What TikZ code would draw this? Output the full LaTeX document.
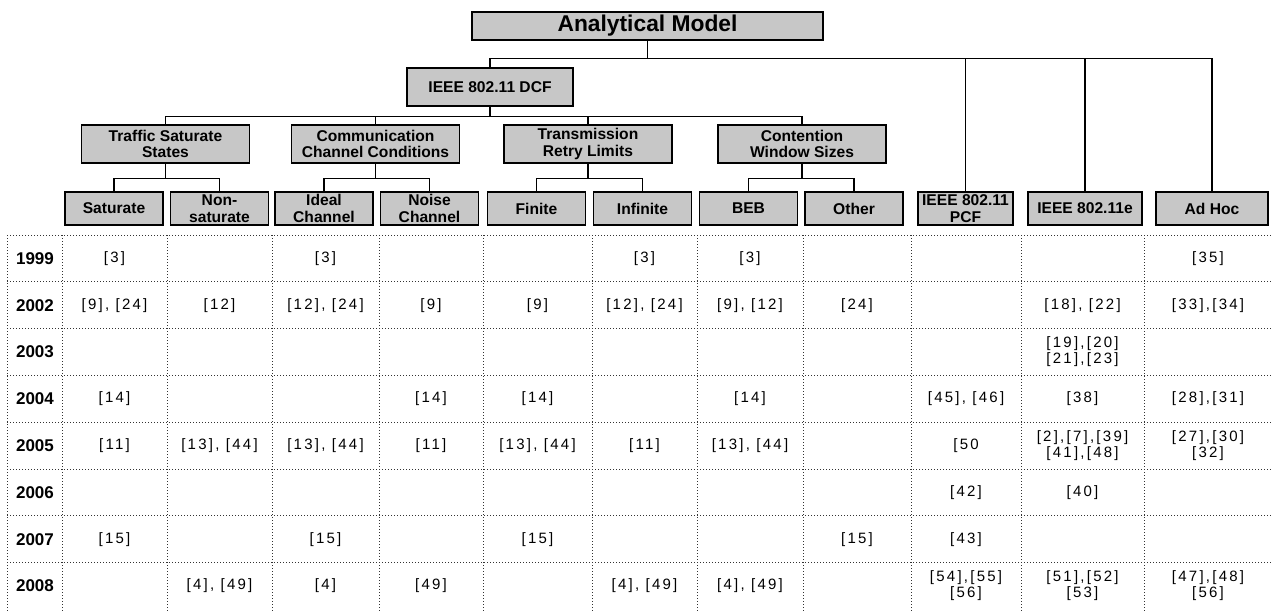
\documentclass[tikz,border=0pt]{standalone}
\usepackage{fontspec}
\setmainfont{Liberation Sans}
\newfontfamily\tabfont[LetterSpace=15]{Liberation Sans}
\usetikzlibrary{calc}
\tikzset{
  box/.style={draw, fill=black!22, line width=0.6pt, inner sep=0pt, align=center,
    font=\bfseries\fontsize{7.8}{8.4}\selectfont},
  leaf/.style={box, minimum width=49pt, minimum height=16.5pt},
  mid/.style={box, minimum width=84pt, minimum height=19pt},
  link/.style={line width=0.6pt},
  tabrule/.style={densely dotted, line width=0.5pt, black!80},
  ref/.style={font=\tabfont\fontsize{7.5}{8}\selectfont, align=center, inner sep=0pt},
  year/.style={font=\bfseries\fontsize{8.5}{9}\selectfont, inner sep=0pt}
}
\newcommand{\branch}[3]{
\draw[link] (#1.south) -- ++(0,#2) -| (#3.north);
}
\begin{document}
\begin{tikzpicture}[x=0.5pt,y=-0.5pt]
\useasboundingbox (0,0) rectangle (1272,612);
% tree
\node[box, minimum width=175.5pt, minimum height=14pt, font=\bfseries\fontsize{11.4}{12}\selectfont] at (647.5,26) (model) {Analytical Model};
\node[mid, minimum width=83pt] at (490,87) (dcf) {IEEE 802.11 DCF};
\node[mid] at (165.5,144) (traffic) {Traffic Saturate\\States};
\node[mid] at (375.5,144) (channel) {Communication\\Channel Conditions};
\node[mid] at (588,144) (retry) {Transmission\\Retry Limits};
\node[mid] at (802,144) (window) {Contention\\Window Sizes};
\node[leaf] at (114,208.5) (sat) {Saturate};
\node[leaf] at (219.5,208.5) (nonsat) {Non-\\saturate};
\node[leaf] at (324,208.5) (ideal) {Ideal\\Channel};
\node[leaf] at (429.5,208.5) (noise) {Noise\\Channel};
\node[leaf] at (536.5,208.5) (finite) {Finite};
\node[leaf] at (642.5,208.5) (infinite) {Infinite};
\node[leaf] at (748.5,208.5) (beb) {BEB};
\node[leaf] at (854,208.5) (other) {Other};
\node[leaf, minimum width=47.5pt] at (965.5,208.5) (pcf) {IEEE 802.11\\PCF};
\node[leaf, minimum width=57pt] at (1085,208.5) (edca) {IEEE 802.11e};
\node[leaf, minimum width=56pt] at (1212,208.5) (adhoc) {Ad Hoc};
\branch{model}{17.5}{dcf}
\branch{model}{17.5}{pcf}
\branch{model}{17.5}{edca}
\branch{model}{17.5}{adhoc}
\branch{dcf}{10}{traffic}
\branch{dcf}{10}{channel}
\branch{dcf}{10}{retry}
\branch{dcf}{10}{window}
\branch{traffic}{15}{sat}
\branch{traffic}{15}{nonsat}
\branch{channel}{15}{ideal}
\branch{channel}{15}{noise}
\branch{retry}{15}{finite}
\branch{retry}{15}{infinite}
\branch{window}{15}{beb}
\branch{window}{15}{other}
% table
\foreach \x in {7,62,167,272,379,483,592,697,803,911,1021,1144}
  \draw[tabrule] (\x,235) -- (\x,612);
\foreach \y in {235,281.8,328.6,375.4,422.2,469,515.8,562.6}
  \draw[tabrule] (7,\y) -- (1272,\y);
\node[year] at (35,258.4) (y1999) {1999};
\node[year] at (35,305.2) (y2002) {2002};
\node[year] at (35,352) (y2003) {2003};
\node[year] at (35,398.8) (y2004) {2004};
\node[year] at (35,445.6) (y2005) {2005};
\node[year] at (35,492.4) (y2006) {2006};
\node[year] at (35,539.2) (y2007) {2007};
\node[year] at (35,586) (y2008) {2008};
% 1999
\node[ref] at (114.5,258.4) (r1c1) {[3]};
\node[ref] at (325.5,258.4) (r1c3) {[3]};
\node[ref] at (644.5,258.4) (r1c6) {[3]};
\node[ref] at (750,258.4) (r1c7) {[3]};
\node[ref] at (1208,258.4) (r1c11) {[35]};
% 2002
\node[ref] at (114.5,305.2) (r2c1) {[9], [24]};
\node[ref] at (219.5,305.2) (r2c2) {[12]};
\node[ref] at (325.5,305.2) (r2c3) {[12], [24]};
\node[ref] at (431,305.2) (r2c4) {[9]};
\node[ref] at (537.5,305.2) (r2c5) {[9]};
\node[ref] at (644.5,305.2) (r2c6) {[12], [24]};
\node[ref] at (750,305.2) (r2c7) {[9], [12]};
\node[ref] at (857,305.2) (r2c8) {[24]};
\node[ref] at (1082.5,305.2) (r2c10) {[18], [22]};
\node[ref] at (1208,305.2) (r2c11) {[33],[34]};
% 2003
\node[ref] at (1082.5,352) (r3c10) {[19],[20]\\{}[21],[23]};
% 2004
\node[ref] at (114.5,398.8) (r4c1) {[14]};
\node[ref] at (431,398.8) (r4c4) {[14]};
\node[ref] at (537.5,398.8) (r4c5) {[14]};
\node[ref] at (750,398.8) (r4c7) {[14]};
\node[ref] at (966,398.8) (r4c9) {[45], [46]};
\node[ref] at (1082.5,398.8) (r4c10) {[38]};
\node[ref] at (1208,398.8) (r4c11) {[28],[31]};
% 2005
\node[ref] at (114.5,445.6) (r5c1) {[11]};
\node[ref] at (219.5,445.6) (r5c2) {[13], [44]};
\node[ref] at (325.5,445.6) (r5c3) {[13], [44]};
\node[ref] at (431,445.6) (r5c4) {[11]};
\node[ref] at (537.5,445.6) (r5c5) {[13], [44]};
\node[ref] at (644.5,445.6) (r5c6) {[11]};
\node[ref] at (750,445.6) (r5c7) {[13], [44]};
\node[ref] at (966,445.6) (r5c9) {[50};
\node[ref] at (1082.5,445.6) (r5c10) {[2],[7],[39]\\{}[41],[48]};
\node[ref] at (1208,445.6) (r5c11) {[27],[30]\\{}[32]};
% 2006
\node[ref] at (966,492.4) (r6c9) {[42]};
\node[ref] at (1082.5,492.4) (r6c10) {[40]};
% 2007
\node[ref] at (114.5,539.2) (r7c1) {[15]};
\node[ref] at (325.5,539.2) (r7c3) {[15]};
\node[ref] at (537.5,539.2) (r7c5) {[15]};
\node[ref] at (857,539.2) (r7c8) {[15]};
\node[ref] at (966,539.2) (r7c9) {[43]};
% 2008
\node[ref] at (219.5,586) (r8c2) {[4], [49]};
\node[ref] at (325.5,586) (r8c3) {[4]};
\node[ref] at (431,586) (r8c4) {[49]};
\node[ref] at (644.5,586) (r8c6) {[4], [49]};
\node[ref] at (750,586) (r8c7) {[4], [49]};
\node[ref] at (966,586) (r8c9) {[54],[55]\\{}[56]};
\node[ref] at (1082.5,586) (r8c10) {[51],[52]\\{}[53]};
\node[ref] at (1208,586) (r8c11) {[47],[48]\\{}[56]};
\end{tikzpicture}
\end{document}
